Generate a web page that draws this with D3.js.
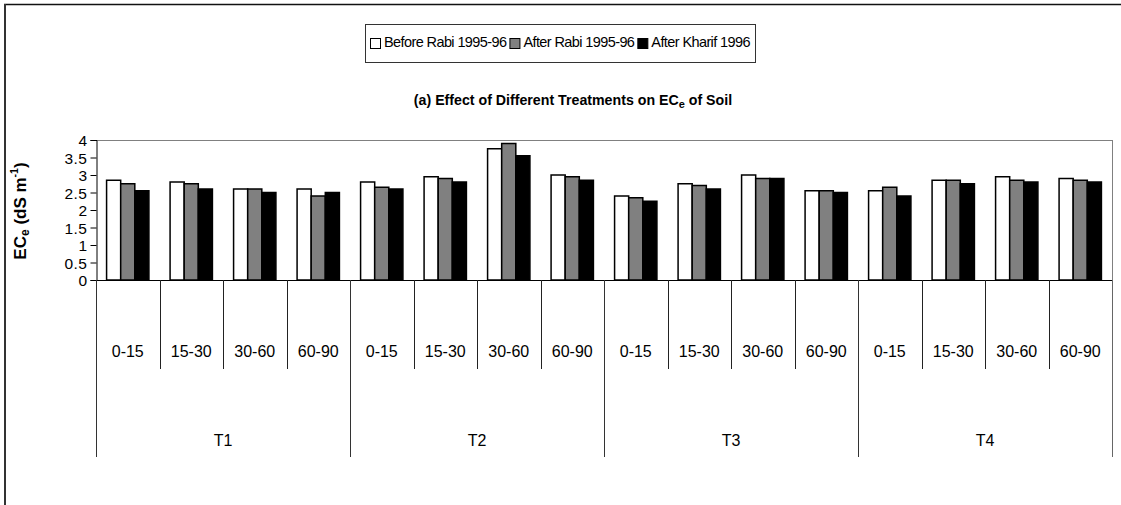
<!DOCTYPE html>
<html><head><meta charset="utf-8">
<script src="https://cdn.jsdelivr.net/npm/d3@7"></script>
<style>
html,body{margin:0;padding:0;background:#fff;}
svg{display:block;font-family:"Liberation Sans",Arial,sans-serif;}
</style></head>
<body>
<svg id="c" width="1121" height="505"></svg>
<script>
const treatments = ["T1","T2","T3","T4"];
const depths = ["0-15","15-30","30-60","60-90"];
const seriesNames = ["Before Rabi 1995-96","After Rabi 1995-96","After Kharif 1996"];
const beforeRabi  = [2.85,2.80,2.60,2.60, 2.80,2.95,3.75,3.00, 2.40,2.75,3.00,2.55, 2.55,2.85,2.95,2.90];
const afterRabi   = [2.75,2.75,2.60,2.40, 2.65,2.90,3.90,2.95, 2.35,2.70,2.90,2.55, 2.65,2.85,2.85,2.85];
const afterKharif = [2.55,2.60,2.50,2.50, 2.60,2.80,3.55,2.85, 2.25,2.60,2.90,2.50, 2.40,2.75,2.80,2.80];
const yTicks = [0,0.5,1,1.5,2,2.5,3,3.5,4];
const fills = ["#ffffff","#808080","#000000"];

const svg = d3.select("#c");
const X0 = 96, X1 = 1112, YT = 140, YB = 280;

// outer frame
svg.append("line").attr("x1",4).attr("x2",1121).attr("y1",4.5).attr("y2",4.5).attr("stroke","#111").attr("stroke-width",1.5);
svg.append("line").attr("x1",5).attr("x2",5).attr("y1",4).attr("y2",505).attr("stroke","#333").attr("stroke-width",2);

const cats = [];
treatments.forEach(t => depths.forEach(d => cats.push(t + "|" + d)));
const series = [beforeRabi, afterRabi, afterKharif];

const x = d3.scaleBand().domain(cats).range([X0, X1]).paddingInner(0).paddingOuter(0);
const xi = d3.scaleBand().domain([0,1,2]).range([0, x.bandwidth()]).paddingInner(0).paddingOuter(0.75);
const y = d3.scaleLinear().domain([0,4]).range([YB, YT]);

// plot area border (top, right)
svg.append("line").attr("x1",X0).attr("x2",X1).attr("y1",YT+0.5).attr("y2",YT+0.5).attr("stroke","#808080");
svg.append("line").attr("x1",X1+0.5).attr("x2",X1+0.5).attr("y1",YT).attr("y2",YB).attr("stroke","#808080");

// bars
cats.forEach((c, i) => {
  series.forEach((s, k) => {
    svg.append("rect")
      .attr("x", x(c) + xi(k))
      .attr("y", y(s[i]))
      .attr("width", xi.bandwidth())
      .attr("height", y(0) - y(s[i]))
      .attr("fill", fills[k])
      .attr("stroke", "#000")
      .attr("stroke-width", 1.5);
  });
});

// y axis
const yAxis = d3.axisLeft(y).tickValues(yTicks).tickSize(6).tickPadding(3).tickFormat(d => String(d));
const yg = svg.append("g").attr("transform", `translate(${X0+0.5},0)`).call(yAxis);
yg.select(".domain").attr("stroke","#000");
yg.selectAll(".tick line").attr("stroke","#000");
yg.selectAll(".tick text").attr("font-size",15.5).attr("fill","#000")
  .attr("font-family","Liberation Sans, Arial, sans-serif").attr("dy","0.36em")
  .attr("letter-spacing","0.5px");

// x axis baseline
svg.append("line").attr("x1",X0).attr("x2",X1).attr("y1",YB+0.5).attr("y2",YB+0.5).attr("stroke","#000");

// group separators
cats.forEach((c, i) => {
  const major = (i % 4 === 0);
  const xx = Math.round(x(c)) + 0.5;
  svg.append("line").attr("x1",xx).attr("x2",xx).attr("y1",YB).attr("y2", major ? 457 : 369)
    .attr("stroke", major ? "#333" : "#222");
});
svg.append("line").attr("x1",X1+0.5).attr("x2",X1+0.5).attr("y1",YB).attr("y2",457).attr("stroke","#666");

// depth labels
cats.forEach((c) => {
  svg.append("text").attr("x", x(c) + x.bandwidth()/2).attr("y", 353)
    .attr("text-anchor","middle").attr("dominant-baseline","middle")
    .attr("font-size",16).text(c.split("|")[1]);
});
// treatment labels
treatments.forEach((t, j) => {
  const a = x(t + "|" + depths[0]), b = x(t + "|" + depths[3]) + x.bandwidth();
  svg.append("text").attr("x", (a+b)/2).attr("y", 442)
    .attr("text-anchor","middle").attr("dominant-baseline","middle")
    .attr("font-size",16).text(t);
});

// y axis title
const yl = svg.append("text").attr("transform","translate(22,211) rotate(-90)")
  .attr("text-anchor","middle").attr("dominant-baseline","middle")
  .attr("font-size",17).attr("font-weight","bold");
yl.append("tspan").text("EC");
yl.append("tspan").attr("font-size",12).attr("dy",4).text("e");
yl.append("tspan").attr("dy",-4).text(" (dS m");
yl.append("tspan").attr("font-size",10.5).attr("dy",-7).text("-1");
yl.append("tspan").attr("dy",7).text(")");

// chart title
const tt = svg.append("text").attr("x",573).attr("y",101)
  .attr("text-anchor","middle").attr("dominant-baseline","middle")
  .attr("font-size",14.2).attr("font-weight","bold");
tt.append("tspan").text("(a) Effect of Different Treatments on EC");
tt.append("tspan").attr("font-size",11).attr("dy",4).text("e");
tt.append("tspan").attr("dy",-4).text("  of Soil");

// legend
const lg = svg.append("g");
lg.append("rect").attr("x",365.5).attr("y",24.5).attr("width",390).attr("height",38)
  .attr("fill","#fff").attr("stroke","#333");
let lx = 370;
seriesNames.forEach((n, k) => {
  lg.append("rect").attr("x",lx+0.5).attr("y",38.5).attr("width",10).attr("height",10)
    .attr("fill",fills[k]).attr("stroke","#000");
  const t = lg.append("text").attr("x",lx+14).attr("y",43).attr("dominant-baseline","middle")
    .attr("font-size",14.5).attr("letter-spacing","-0.6px").text(n);
  lx += 14 + t.node().getComputedTextLength() + 3;
});
</script>
</body></html>
